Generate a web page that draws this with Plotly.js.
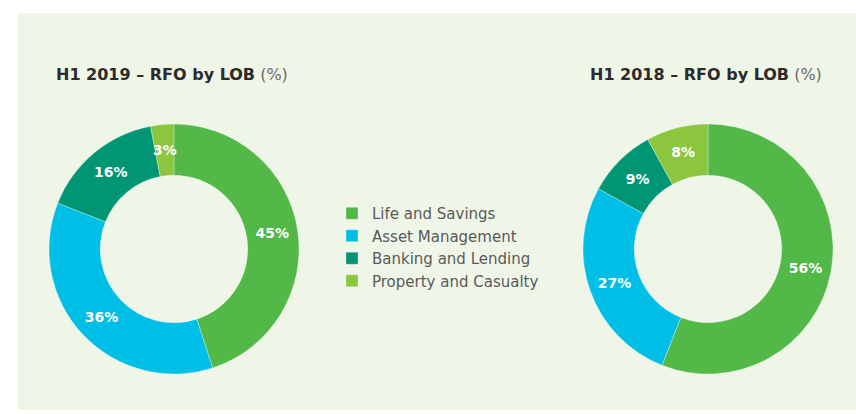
<!DOCTYPE html>
<html>
<head>
<meta charset="utf-8">
<script src="https://cdn.plot.ly/plotly-3.0.1.min.js"></script>
<style>html,body{margin:0;padding:0;background:#fff;}#chart{width:856px;height:414px;}</style>
</head>
<body>
<div id="chart"></div>
<script>
const categories = ["Life and Savings", "Asset Management", "Banking and Lending", "Property and Casualty"];
const values2019 = [45, 36, 16, 3];
const values2018 = [56, 27, 9, 8];
const colors = ["#52b848", "#00bfe7", "#009674", "#8cc63f"];
const titles = ["H1 2019 – RFO by LOB", "H1 2018 – RFO by LOB"];

const W = 856, H = 414;
const FONT = "DejaVu Sans, sans-serif";
const HOLE = 0.59;
const SMALL = 5; // slices below this value get their label drawn as an annotation

function pie(vals, box, showlegend) {
  return {
    type: "pie",
    labels: categories,
    values: vals,
    sort: false,
    direction: "clockwise",
    rotation: 0,
    hole: HOLE,
    marker: {colors: colors, line: {color: "#ffffff", width: 0.3}},
    texttemplate: "%{value}%",
    textposition: vals.map(v => v < SMALL ? "none" : "inside"),
    insidetextorientation: "horizontal",
    textfont: {family: FONT, size: 14, color: "#ffffff", weight: 700},
    domain: {x: [box.x0 / W, box.x1 / W], y: [1 - box.y1 / H, 1 - box.y0 / H]},
    showlegend: showlegend,
    hoverinfo: "skip"
  };
}

const box2019 = {x0: 49, x1: 299, y0: 124, y1: 374};
const box2018 = {x0: 583, x1: 833, y0: 124, y1: 374};

const data = [pie(values2019, box2019, true), pie(values2018, box2018, false)];

// labels for thin slices, placed at the slice's mid-angle on the ring's middle radius
function smallLabels(vals, box) {
  const total = vals.reduce((a, b) => a + b, 0);
  const cx = (box.x0 + box.x1) / 2, cy = (box.y0 + box.y1) / 2;
  const R = (box.x1 - box.x0) / 2, rMid = R * (1 + HOLE) / 2;
  const out = [];
  let cum = 0;
  vals.forEach(v => {
    const mid = (cum + v / 2) / total * 2 * Math.PI;
    cum += v;
    if (v < SMALL) {
      out.push({
        xref: "paper", yref: "paper",
        x: (cx + rMid * Math.sin(mid)) / W, y: 1 - (cy - rMid * Math.cos(mid)) / H,
        xanchor: "center", yanchor: "middle", showarrow: false,
        text: "<b>" + v + "%</b>", font: {family: FONT, size: 14, color: "#ffffff"}
      });
    }
  });
  return out;
}

const layout = {
  width: W, height: H,
  margin: {l: 0, r: 0, t: 0, b: 0},
  paper_bgcolor: "#ffffff",
  font: {family: FONT},
  shapes: [{
    type: "rect", xref: "paper", yref: "paper",
    x0: 18 / W, x1: 1, y0: 1 - 410 / H, y1: 1 - 13 / H,
    fillcolor: "#eff6e8", line: {width: 0}, layer: "below"
  }],
  legend: {
    x: 332 / W, y: 1 - 197 / H, xanchor: "left", yanchor: "top",
    bgcolor: "rgba(0,0,0,0)",
    font: {family: FONT, size: 15, color: "#5a5a5a"},
    itemclick: false, itemdoubleclick: false
  },
  annotations: [
    {xref: "paper", yref: "paper", x: 54 / W, y: 1 - 74 / H, xanchor: "left", yanchor: "middle",
     showarrow: false, font: {family: FONT, size: 16, color: "#2b2b2b"},
     text: "<b>" + titles[0] + "</b> <span style='color:#6a6a6a'>(%)</span>"},
    {xref: "paper", yref: "paper", x: 588 / W, y: 1 - 74 / H, xanchor: "left", yanchor: "middle",
     showarrow: false, font: {family: FONT, size: 16, color: "#2b2b2b"},
     text: "<b>" + titles[1] + "</b> <span style='color:#6a6a6a'>(%)</span>"}
  ].concat(smallLabels(values2019, box2019), smallLabels(values2018, box2018))
};

Plotly.newPlot("chart", data, layout, {displayModeBar: false, staticPlot: true});
</script>
</body>
</html>
